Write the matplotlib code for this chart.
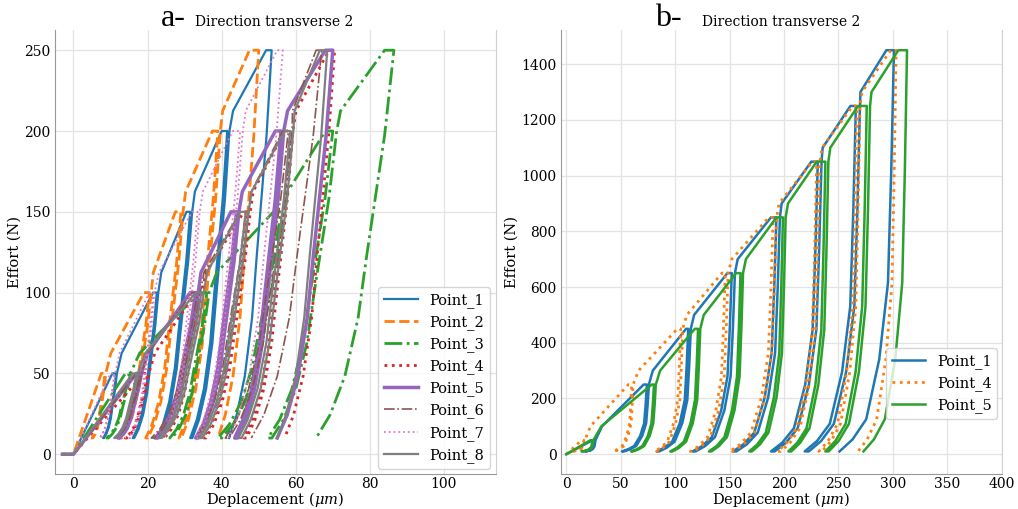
import matplotlib

matplotlib.use("Agg")
import matplotlib.pyplot as plt

plt.rcParams["font.family"] = "DejaVu Serif"
plt.rcParams["mathtext.fontset"] = "dejavuserif"

# ---- panel a : 8 points, load levels up to 250 N ----
PEAKS_A = [50, 100, 150, 200, 250]
LABELS_A = ["Point_1", "Point_2", "Point_3", "Point_4",
            "Point_5", "Point_6", "Point_7", "Point_8"]
# x (um) where each load level is reached / left, and x at end of unloading
PEAK_START_A = [
    [10.5, 21.5, 30.5, 40.0, 52.0],
    [7.5, 19.0, 27.5, 37.5, 47.5],
    [14.0, 34.0, 54.0, 68.0, 84.0],
    [19.0, 33.0, 46.0, 57.0, 69.0],
    [17.0, 31.5, 42.5, 54.5, 68.0],
    [17.0, 32.0, 45.0, 56.5, 65.5],
    [10.0, 20.5, 32.0, 43.0, 55.0],
    [16.0, 33.0, 45.0, 57.0, 66.5],
]
PEAK_END_A = [
    [11.5, 22.5, 31.5, 41.5, 53.5],
    [8.5, 20.5, 29.0, 39.0, 50.0],
    [15.0, 36.0, 56.0, 70.0, 86.5],
    [20.0, 34.0, 47.0, 58.5, 70.5],
    [18.0, 33.0, 44.0, 56.0, 70.0],
    [18.0, 33.5, 46.5, 58.0, 67.0],
    [11.0, 21.5, 33.5, 45.0, 56.5],
    [17.0, 34.5, 46.5, 58.5, 68.5],
]
UNLOAD_END_A = [
    [8.0, 16.0, 22.5, 31.5, 42.0],
    [5.0, 12.5, 19.5, 28.5, 39.0],
    [9.0, 26.0, 39.0, 52.5, 65.5],
    [14.0, 24.0, 35.0, 46.0, 57.0],
    [12.0, 22.0, 33.0, 43.5, 55.0],
    [11.0, 21.0, 33.0, 41.0, 48.0],
    [7.0, 15.0, 24.0, 33.0, 42.0],
    [11.0, 23.0, 34.0, 44.5, 55.0],
]
# unloading curve shape (fraction of travel / of load)
SHAPE_X_A = [0.0, 0.12, 0.35, 0.46, 0.63, 0.82, 1.0]
SHAPE_Y_A = [1.0, 0.78, 0.47, 0.31, 0.16, 0.06, 0.0]

# ---- panel b : 3 points, load levels up to 1450 N ----
PEAKS_B = [50, 250, 450, 650, 850, 1050, 1250, 1450]
LABELS_B = ["Point_1", "Point_4", "Point_5"]
PEAK_START_B = [
    [24, 71, 110, 148, 188, 225, 261, 294],
    [14, 57, 102, 143, 186, 226, 263, 298],
    [22, 78.5, 118, 156, 193, 230, 268, 305],
]
PEAK_END_B = [
    [26, 74, 112, 152, 193, 231, 266, 301],
    [16, 60, 105, 146, 190, 230, 267, 303],
    [24, 80.5, 121, 160, 199, 238, 276, 313],
]
UNLOAD_END_B = [
    [17, 51, 83, 116, 153, 188, 219, 251],
    [4, 43, 81, 114, 150, 194, 232, 268],
    [14, 59.5, 95.5, 131, 168, 204, 238, 273],
]
SHAPE_X_B = [0.0, 0.05, 0.11, 0.27, 0.51, 0.76, 1.0]
SHAPE_Y_B = [1.0, 0.70, 0.42, 0.23, 0.08, 0.03, 0.0]

FLOOR_LOAD = 10


def cycle_path(peaks, starts, ends, unloads, shape_x, shape_y, toe, loop):
    xs = [p[0] for p in toe]
    ys = [p[1] for p in toe]
    for k, load in enumerate(peaks):
        xs += [starts[k], ends[k]]
        ys += [load, load]
        travel = ends[k] - unloads[k]
        for fx, fy in zip(shape_x, shape_y):
            xs.append(ends[k] - fx * travel)
            ys.append(FLOOR_LOAD + fy * (load - FLOOR_LOAD))
        if k == len(peaks) - 1:
            break
        # reload slightly to the right of the unloading branch
        for fx, fy in zip(shape_x[::-1], shape_y[::-1]):
            xs.append(ends[k] - (fx - loop) * travel)
            ys.append(FLOOR_LOAD + fy * (load - FLOOR_LOAD))
        xs.append(ends[k] + 0.15 * (starts[k + 1] - ends[k]))
        ys.append(load + 0.25 * (peaks[k + 1] - load))
    return xs, ys


def style_axis(axis):
    axis.grid(True, color="#e3e3e3", linewidth=0.9)
    axis.set_axisbelow(True)
    axis.spines["top"].set_visible(False)
    axis.spines["left"].set_color("#999999")
    axis.spines["bottom"].set_color("#999999")
    axis.spines["right"].set_color("#d0d0d0")
    axis.tick_params(axis="y", length=0, labelsize=10, pad=3)
    axis.tick_params(axis="x", length=0, labelsize=10, pad=2)
    axis.set_xlabel(r"Deplacement ($\mu m$)", fontsize=10.5, labelpad=-1)
    axis.set_ylabel("Effort (N)", fontsize=10.5, labelpad=2)


fig = plt.figure(figsize=(10.18, 5.09), dpi=100, facecolor="white")
ax_a = fig.add_axes((0.054, 0.068, 0.433, 0.873))
ax_b = fig.add_axes((0.551, 0.068, 0.433, 0.873))

styles_a = [
    ("#1f77b4", "-", 1.6),
    ("#ff7f0e", "--", 2.0),
    ("#2ca02c", "-.", 2.0),
    ("#d62728", ":", 2.0),
    ("#9467bd", "-", 2.5),
    ("#8c564b", "-.", 1.2),
    ("#e377c2", ":", 1.3),
    ("#7f7f7f", "-", 1.6),
]
for i, label in enumerate(LABELS_A):
    xs, ys = cycle_path(PEAKS_A, PEAK_START_A[i], PEAK_END_A[i], UNLOAD_END_A[i],
                        SHAPE_X_A, SHAPE_Y_A, [(-3, 0), (0, 0)], 0.06)
    color, ls, lw = styles_a[i]
    ax_a.plot(xs, ys, color=color, linestyle=ls, linewidth=lw, label=label)

ax_a.set_xlim(-5, 114)
ax_a.set_ylim(-12.5, 262.5)
ax_a.set_xticks([0, 20, 40, 60, 80, 100])
ax_a.set_yticks([0, 50, 100, 150, 200, 250])
style_axis(ax_a)
ax_a.legend(loc="lower right", fontsize=10.5, frameon=True, edgecolor="#cccccc",
            borderaxespad=0.4, handlelength=2.3, labelspacing=0.5)

styles_b = [
    ("#1f77b4", "-", 1.8),
    ("#ff7f0e", ":", 2.0),
    ("#2ca02c", "-", 1.8),
]
for i, label in enumerate(LABELS_B):
    xs, ys = cycle_path(PEAKS_B, PEAK_START_B[i], PEAK_END_B[i], UNLOAD_END_B[i],
                        SHAPE_X_B, SHAPE_Y_B, [(0, 0)], 0.08)
    color, ls, lw = styles_b[i]
    ax_b.plot(xs, ys, color=color, linestyle=ls, linewidth=lw, label=label)

ax_b.set_xlim(-5, 400)
ax_b.set_ylim(-72.5, 1522.5)
ax_b.set_xticks([0, 50, 100, 150, 200, 250, 300, 350, 400])
ax_b.set_yticks([0, 200, 400, 600, 800, 1000, 1200, 1400])
style_axis(ax_b)
ax_b.legend(loc="center right", bbox_to_anchor=(1.0, 0.205), fontsize=10.5,
            frameon=True, edgecolor="#cccccc", borderaxespad=0.3,
            handlelength=2.3, labelspacing=0.5)

fig.text(0.158, 0.948, "a-", fontsize=23, family="Liberation Serif")
fig.text(0.192, 0.948, "Direction transverse 2", fontsize=10)
fig.text(0.643, 0.948, "b-", fontsize=23, family="Liberation Serif")
fig.text(0.690, 0.948, "Direction transverse 2", fontsize=10)

fig.savefig("out.png", dpi=100, facecolor="white")
